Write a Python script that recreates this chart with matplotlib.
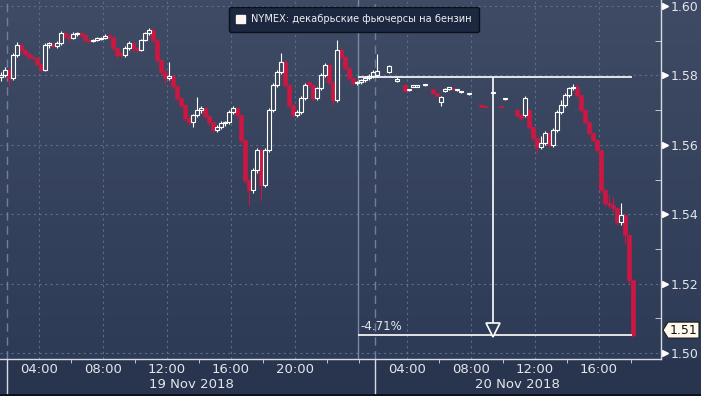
import numpy as np
import matplotlib
matplotlib.use('Agg')
import matplotlib.pyplot as plt
import matplotlib.transforms as mtrans
from matplotlib.colors import LinearSegmentedColormap
from matplotlib.patches import Patch, Polygon

nan = np.nan

# 15-minute bars of the December RBOB contract, NaN = no trade in that slot
opens = [
    1.5795, 1.5801, 1.5816, 1.5792, 1.5858, 1.5888, 1.5873, 1.5862, 1.5853, 1.5850,
    1.5833, 1.5816, 1.5888, 1.5890, 1.5885, 1.5893, 1.5922, 1.5914, 1.5908, 1.5919,
    1.5922, 1.5916, 1.5902, 1.5899, 1.5902, 1.5905, 1.5908, 1.5914, 1.5911, 1.5878,
    1.5864, 1.5858, 1.5878, 1.5893, 1.5878, 1.5873, 1.5902, 1.5922, 1.5931, 1.5902,
    1.5844, 1.5810, 1.5792, 1.5798, 1.5769, 1.5734, 1.5714, 1.5677, 1.5665, 1.5685,
    1.5700, 1.5706, 1.5683, 1.5665, 1.5642, 1.5651, 1.5662, 1.5665, 1.5694, 1.5706,
    1.5685, 1.5613, 1.5498, 1.5469, 1.5527, 1.5585, 1.5484, 1.5585, 1.5700, 1.5772,
    1.5809, 1.5838, 1.5772, 1.5714, 1.5685, 1.5694, 1.5734, 1.5780, 1.5772, 1.5734,
    1.5763, 1.5801, 1.5829, 1.5780, 1.5729, 1.5873, 1.5853, 1.5821, 1.5792, 1.5778,
    1.5780, 1.5786, 1.5792, 1.5798,
    1.5800, nan, nan, 1.5810, nan, 1.5785,
    nan, 1.5772, 1.5758, 1.5768, 1.5768, nan, 1.5771, nan, 1.5760, 1.5748,
    1.5722, 1.5754, 1.5760, 1.5762, 1.5757, 1.5752, nan, 1.5745, nan, nan,
    1.5716, 1.5712, nan, 1.5748, nan, 1.5710, 1.5731, nan, nan, 1.5700,
    1.5685, 1.5685, 1.5700, 1.5651, 1.5619, 1.5593, 1.5605, 1.5634, 1.5599, 1.5642,
    1.5694, 1.5714, 1.5743, 1.5763, 1.5766, 1.5743, 1.5700, 1.5665, 1.5634, 1.5613,
    1.5585, 1.5469, 1.5432, 1.5426, 1.5418, 1.5377, 1.5397, 1.5340, 1.5210,
]
highs = [
    1.5810, 1.5825, 1.5822, 1.5865, 1.5895, 1.5893, 1.5878, 1.5866, 1.5858, 1.5854,
    1.5837, 1.5893, 1.5897, 1.5894, 1.5899, 1.5928, 1.5926, 1.5918, 1.5924, 1.5926,
    1.5925, 1.5919, 1.5906, 1.5906, 1.5912, 1.5911, 1.5918, 1.5917, 1.5914, 1.5882,
    1.5868, 1.5884, 1.5898, 1.5896, 1.5882, 1.5906, 1.5926, 1.5937, 1.5934, 1.5906,
    1.5848, 1.5822, 1.5839, 1.5802, 1.5773, 1.5738, 1.5718, 1.5682, 1.5690, 1.5738,
    1.5712, 1.5710, 1.5688, 1.5668, 1.5657, 1.5668, 1.5670, 1.5700, 1.5712, 1.5710,
    1.5689, 1.5617, 1.5503, 1.5533, 1.5592, 1.5590, 1.5592, 1.5706, 1.5778, 1.5815,
    1.5865, 1.5843, 1.5776, 1.5719, 1.5700, 1.5740, 1.5778, 1.5785, 1.5776, 1.5768,
    1.5806, 1.5835, 1.5834, 1.5784, 1.5902, 1.5878, 1.5857, 1.5826, 1.5796, 1.5785,
    1.5790, 1.5797, 1.5803, 1.5815,
    1.5861, nan, nan, 1.5830, nan, 1.5794,
    nan, 1.5774, 1.5762, 1.5772, 1.5772, nan, 1.5775, nan, 1.5762, 1.5750,
    1.5742, 1.5763, 1.5768, 1.5764, 1.5761, 1.5756, nan, 1.5749, nan, nan,
    1.5718, 1.5714, nan, 1.5752, nan, 1.5712, 1.5735, nan, nan, 1.5703,
    1.5690, 1.5740, 1.5703, 1.5655, 1.5623, 1.5625, 1.5640, 1.5638, 1.5648, 1.5700,
    1.5728, 1.5749, 1.5768, 1.5775, 1.5776, 1.5747, 1.5704, 1.5669, 1.5638, 1.5617,
    1.5589, 1.5473, 1.5455, 1.5450, 1.5422, 1.5433, 1.5402, 1.5344, 1.5214,
]
lows = [
    1.5785, 1.5795, 1.5772, 1.5788, 1.5852, 1.5867, 1.5857, 1.5848, 1.5844, 1.5827,
    1.5810, 1.5812, 1.5880, 1.5878, 1.5879, 1.5889, 1.5908, 1.5897, 1.5904, 1.5914,
    1.5911, 1.5897, 1.5893, 1.5895, 1.5898, 1.5901, 1.5904, 1.5905, 1.5872, 1.5851,
    1.5852, 1.5854, 1.5874, 1.5868, 1.5866, 1.5869, 1.5898, 1.5917, 1.5896, 1.5838,
    1.5803, 1.5775, 1.5786, 1.5762, 1.5727, 1.5708, 1.5669, 1.5656, 1.5651, 1.5680,
    1.5693, 1.5677, 1.5658, 1.5636, 1.5636, 1.5646, 1.5655, 1.5660, 1.5689, 1.5678,
    1.5605, 1.5490, 1.5426, 1.5462, 1.5520, 1.5441, 1.5478, 1.5580, 1.5694, 1.5766,
    1.5803, 1.5766, 1.5707, 1.5676, 1.5680, 1.5690, 1.5729, 1.5766, 1.5727, 1.5729,
    1.5758, 1.5796, 1.5773, 1.5715, 1.5724, 1.5846, 1.5815, 1.5786, 1.5771, 1.5772,
    1.5775, 1.5781, 1.5787, 1.5793,
    1.5796, nan, nan, 1.5808, nan, 1.5782,
    nan, 1.5751, 1.5756, 1.5766, 1.5766, nan, 1.5769, nan, 1.5746, 1.5740,
    1.5712, 1.5752, 1.5758, 1.5758, 1.5755, 1.5750, nan, 1.5743, nan, nan,
    1.5708, 1.5706, nan, 1.5746, nan, 1.5706, 1.5729, nan, nan, 1.5680,
    1.5672, 1.5680, 1.5645, 1.5612, 1.5576, 1.5588, 1.5600, 1.5594, 1.5594, 1.5637,
    1.5688, 1.5709, 1.5738, 1.5757, 1.5737, 1.5694, 1.5659, 1.5628, 1.5607, 1.5579,
    1.5462, 1.5425, 1.5418, 1.5405, 1.5370, 1.5368, 1.5316, 1.5200, 1.5046,
]
closes = [
    1.5801, 1.5816, 1.5792, 1.5858, 1.5888, 1.5873, 1.5862, 1.5853, 1.5850, 1.5833,
    1.5816, 1.5888, 1.5890, 1.5885, 1.5893, 1.5922, 1.5914, 1.5908, 1.5919, 1.5922,
    1.5916, 1.5902, 1.5899, 1.5902, 1.5908, 1.5908, 1.5914, 1.5911, 1.5878, 1.5858,
    1.5858, 1.5878, 1.5893, 1.5878, 1.5873, 1.5902, 1.5922, 1.5931, 1.5902, 1.5844,
    1.5810, 1.5792, 1.5798, 1.5769, 1.5734, 1.5714, 1.5677, 1.5665, 1.5685, 1.5700,
    1.5706, 1.5683, 1.5665, 1.5642, 1.5651, 1.5662, 1.5665, 1.5694, 1.5706, 1.5685,
    1.5613, 1.5498, 1.5469, 1.5527, 1.5585, 1.5484, 1.5585, 1.5700, 1.5772, 1.5809,
    1.5838, 1.5772, 1.5714, 1.5685, 1.5694, 1.5734, 1.5772, 1.5772, 1.5734, 1.5763,
    1.5801, 1.5829, 1.5780, 1.5729, 1.5873, 1.5853, 1.5821, 1.5792, 1.5778, 1.5780,
    1.5786, 1.5792, 1.5798, 1.5809,
    1.5812, nan, nan, 1.5827, nan, 1.5791,
    nan, 1.5754, 1.5760, 1.5770, 1.5770, nan, 1.5773, nan, 1.5748, 1.5742,
    1.5737, 1.5760, 1.5766, 1.5760, 1.5759, 1.5754, nan, 1.5747, nan, nan,
    1.5710, 1.5708, nan, 1.5750, nan, 1.5708, 1.5733, nan, nan, 1.5685,
    1.5677, 1.5734, 1.5651, 1.5619, 1.5593, 1.5605, 1.5634, 1.5599, 1.5642, 1.5694,
    1.5714, 1.5743, 1.5763, 1.5766, 1.5743, 1.5700, 1.5665, 1.5634, 1.5613, 1.5585,
    1.5469, 1.5432, 1.5426, 1.5418, 1.5377, 1.5397, 1.5340, 1.5210, 1.5052,
]

# axis text
time_labels = ['04:00', '08:00', '12:00', '16:00', '20:00', '04:00', '08:00', '12:00', '16:00']
date_labels = ['19 Nov 2018', '20 Nov 2018']
price_ticks = [1.50, 1.52, 1.54, 1.56, 1.58, 1.60]
legend_text = 'NYMEX: декабрьские фьючерсы на бензин'

# measurement tool: from 1.5795 down to 1.5051
ref_price = 1.5795
low_price = 1.5051
pct_text = '-4.71%'
last_text = '1.51'
last_price = 1.5066

# x axis is in trading hours from the 02:00 (MSK) session open of 19 Nov,
# the 1h break at 01:00-02:00 is removed
bar_hours = np.arange(len(closes)) * 0.25 - 0.375
label_hours = [2, 6, 10, 14, 18, 25, 29, 33, 37]
tick_hours = [4, 8, 12, 16, 20, 22, 27, 31, 35, 39]
session_starts = [0, 23]
date_hours = [11.5, 31.9]
cursor_hour = 21.94
arrow_hour = 30.375
end_hour = 39.06

txt = '#e4e6ea'
grid_c = '#5d6d8a'
red = '#cc1742'

W, H = 701, 396
fig = plt.figure(figsize=(W / 100, H / 100), dpi=100)
fig.patch.set_facecolor('#29354f')

# gradient background behind plot and price scale
bg = fig.add_axes([0, 1 - 359 / H, 1, 359 / H], zorder=0)
cmap = LinearSegmentedColormap.from_list('bg', ['#3f4b64', '#2e3b57'])
bg.imshow(np.linspace(0, 1, 256).reshape(-1, 1), aspect='auto', cmap=cmap,
          extent=[0, 1, 0, 1], origin='upper')
bg.axis('off')

ax = fig.add_axes([0, 1 - 359 / H, 661 / W, 359 / H], zorder=1)
ax.patch.set_alpha(0)
ax.set_xlim(-0.4375, 40.875)
ax.set_ylim(1.50 - 6 / 3470, 1.50 + 353 / 3470)

# grid
for p in price_ticks:
    ax.axhline(p, color=grid_c, lw=0.8, ls=(0, (2, 3)), zorder=1)
for h in label_hours:
    ax.axvline(h, color=grid_c, lw=0.8, ls=(0, (2, 3)), zorder=1)
for h in session_starts:
    ax.axvline(h, color='#6f7f9c', lw=1, ls=(0, (6, 4)), zorder=1)
    ax.axvline(h, ymin=-37 / 359, ymax=0, color='#d8dbe2', lw=1, clip_on=False)
ax.axvline(cursor_hour, color='#7a88a2', lw=1, zorder=1)

# candles
o = np.array(opens); hi = np.array(highs); lo = np.array(lows); c = np.array(closes)
ok = ~np.isnan(c)
up = ok & (c >= o)
dn = ok & (c < o)
top = np.maximum(o, c)
bot = np.minimum(o, c)
body = np.maximum(top - bot, 0.0004)
w = 0.19

ax.vlines(bar_hours[dn], lo[dn], hi[dn], color=red, lw=0.8, zorder=3)
ax.bar(bar_hours[dn], body[dn], bottom=bot[dn], width=w, color=red,
       edgecolor=red, lw=0.5, zorder=3)
ax.vlines(bar_hours[up], top[up], hi[up], color='white', lw=0.8, zorder=4)
ax.vlines(bar_hours[up], lo[up], bot[up], color='white', lw=0.8, zorder=4)
ax.bar(bar_hours[up], body[up], bottom=bot[up], width=w, facecolor='none',
       edgecolor='white', lw=0.8, zorder=4)

# percent change annotation
ax.hlines([ref_price, low_price], cursor_hour, end_hour, color='white', lw=1.2, zorder=5)
tri = mtrans.offset_copy(ax.transData, fig=fig, y=5.5, units='dots')
ax.vlines(arrow_hour, low_price + 10 / 3470, ref_price, color='white', lw=1.2, zorder=5)
ax.plot([arrow_hour], [low_price], marker='v', ms=10, mfc='#2f3c58', mec='white',
        mew=1.2, transform=tri, zorder=6)
ax.text(cursor_hour + 0.15, low_price + 0.0008, pct_text, color=txt, fontsize=8.5,
        ha='left', va='bottom', zorder=6)

# axes styling
for s in ['left', 'top']:
    ax.spines[s].set_visible(False)
for s in ['right', 'bottom']:
    ax.spines[s].set_color('#d8dbe2')
    ax.spines[s].set_linewidth(1)

ax.yaxis.tick_right()
ax.set_yticks(price_ticks)
ax.set_yticklabels(['%.2f' % p for p in price_ticks], fontsize=9, color=txt)
ax.set_yticks(np.arange(1.51, 1.60, 0.02), minor=True)
ax.tick_params(axis='y', which='major', length=0, pad=7)
ax.tick_params(axis='y', which='minor', direction='in', length=4, color='#d8dbe2')
ax.plot(np.full(len(price_ticks), 1 + 4 / 661), price_ticks, ls='none', marker='>',
        ms=5, color='white', transform=ax.get_yaxis_transform(), clip_on=False)

ax.set_xticks(label_hours)
ax.set_xticklabels(time_labels, fontsize=9.5, color=txt)
ax.set_xticks(tick_hours, minor=True)
ax.tick_params(axis='x', which='major', length=0, pad=3)
ax.tick_params(axis='x', which='minor', direction='out', length=3, color='#d8dbe2')
for h, d in zip(date_hours, date_labels):
    ax.text(h, -26 / 359, d, transform=ax.get_xaxis_transform(), ha='center',
            va='center', fontsize=9.5, color=txt)

leg = ax.legend(handles=[Patch(facecolor='#fff5f0', edgecolor='#fff5f0')],
                labels=[legend_text], loc='upper left',
                bbox_to_anchor=(229 / 661, 1 - 7 / 359), fontsize=7.1,
                labelcolor='#eceef2', facecolor='#1c2740', edgecolor='#0a0f1c',
                framealpha=1, fancybox=True, handlelength=0.9, handleheight=0.9,
                handletextpad=0.6, borderpad=0.75, borderaxespad=0)
leg.get_frame().set_linewidth(1)

# last price tag on the scale
xr, yl = ax.transAxes.transform((1, 0))[0], ax.transData.transform((0, last_price))[1]
tag = Polygon([(xr + 2, yl), (xr + 7, yl + 8), (xr + 38, yl + 8), (xr + 38, yl - 8),
               (xr + 7, yl - 8)], closed=True, facecolor='#fff8ec', edgecolor='#1a1a1a',
              lw=0.8, transform=mtrans.IdentityTransform())
fig.add_artist(tag)
fig.text((xr + 22.5) / W, yl / H, last_text, ha='center', va='center',
         fontsize=9, color='#111111')

fig.add_artist(plt.Line2D([0, 1], [1.5 / H, 1.5 / H], color='#0c111c', lw=2,
                          transform=fig.transFigure))

plt.savefig('out.png', dpi=100, facecolor=fig.get_facecolor())
